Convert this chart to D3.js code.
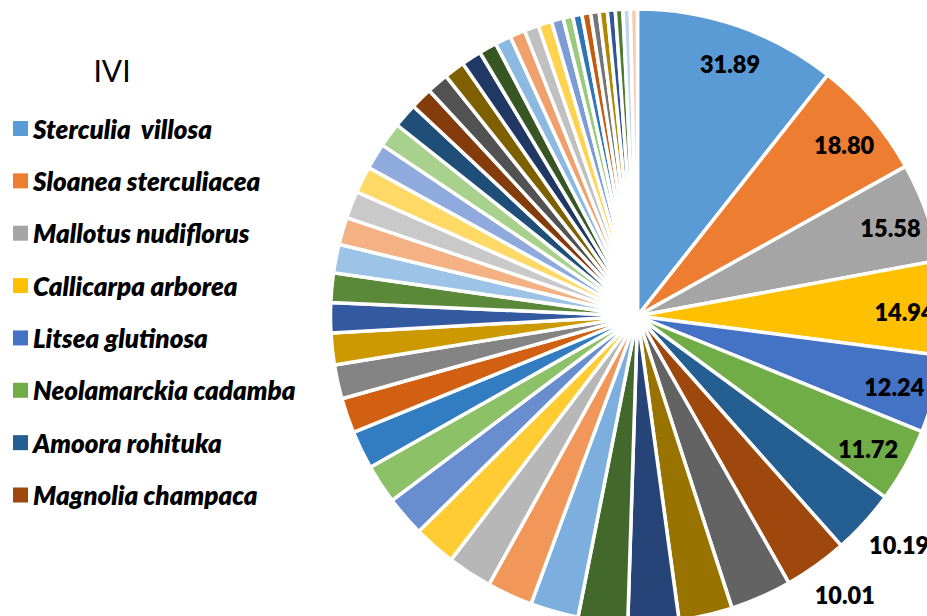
<!DOCTYPE html>
<html><head><meta charset="utf-8">
<script src="https://cdn.jsdelivr.net/npm/d3@7"></script>
<style>html,body{margin:0;padding:0;background:#fff;overflow:hidden}</style>
</head><body>
<svg id="chart" width="927" height="616"></svg>
<script>
const title = "IVI";
const species = ["Sterculia  villosa", "Sloanea sterculiacea", "Mallotus nudiflorus", "Callicarpa arborea",
  "Litsea glutinosa", "Neolamarckia cadamba", "Amoora rohituka", "Magnolia champaca"];
const ivi = [31.89, 18.80, 15.58, 14.94, 12.24, 11.72, 10.19, 10.01,
  9.70, 8.45, 8.00, 7.80, 7.60, 7.21, 7.05, 6.70, 6.35, 6.18, 6.02, 5.55, 5.38, 5.01,
  4.72, 4.65, 4.52, 4.33, 4.29, 4.21, 4.10, 3.88, 3.85, 3.49, 3.42, 3.28, 3.17, 2.81,
  2.52, 2.41, 2.27, 2.16, 1.88, 1.52, 1.45, 1.38, 1.33, 1.29, 1.24, 1.19, 1.16, 1.12];
const labelledCount = 8;
const outsideLabels = [6, 7];
const palette = [
  "#5b9bd5","#ed7d31","#a5a5a5","#ffc000","#4472c4","#70ad47",
  "#255e91","#9e480e","#636363","#997300","#264478","#43682b",
  "#7cafdd","#f1975a","#b7b7b7","#ffcd33","#698ed0","#8cc168",
  "#327dc2","#d26012","#848484","#cc9a00","#335aa1","#5a8a39",
  "#9dc3e6","#f4b183","#c9c9c9","#ffd966","#8faadc","#a9d18e",
  "#1f4e79","#843c0c","#525252","#7f6000","#203864","#375623",
  "#8cb9e2","#f0a06c","#c0c0c0","#ffd34d","#7c9cd6","#9bc97d",
  "#2e75b6","#c55a11","#757575","#b38600","#2f5597","#4f7c31",
  "#bdd7ee","#f8cbad"];

const svg = d3.select("#chart");
const cx = 637.5, cy = 316, R = 307;
const g = svg.append("g").attr("transform", `translate(${cx},${cy})`);
const pie = d3.pie().sort(null).value(d => d);
const arcs = pie(ivi);
const arc = d3.arc().innerRadius(0).outerRadius(R);
g.selectAll("path.slice").data(arcs).join("path")
  .attr("class", "slice")
  .attr("d", arc)
  .attr("fill", (d, i) => palette[i % palette.length])
  .attr("stroke", "#fff")
  .attr("stroke-width", 3.5)
  .attr("stroke-linejoin", "round");

function labelPos(d, i) {
  const outside = outsideLabels.includes(i);
  const r = outside ? 349 : 267;
  const a = (d.startAngle + d.endAngle) / 2 + (outside ? -0.015 : 0.02);
  return [Math.sin(a) * r, -Math.cos(a) * r - 2];
}
g.selectAll("text.val").data(arcs.slice(0, labelledCount)).join("text")
  .attr("class", "val")
  .attr("transform", (d, i) => `translate(${labelPos(d, i)})`)
  .attr("text-anchor", "middle")
  .attr("dominant-baseline", "central")
  .style("font-family", "Lato, 'Open Sans', sans-serif")
  .style("font-weight", 800)
  .style("font-size", "23.5px")
  .attr("fill", "#000")
  .text(d => d.value.toFixed(2));

// legend
const leg = svg.append("g");
leg.append("text").attr("x", 112).attr("y", 82).attr("text-anchor", "middle")
  .style("font-family", "Lato, sans-serif").style("font-size", "30px").style("font-weight", 400)
  .attr("fill", "#000").text(title);
const yScale = d3.scalePoint().domain(species).range([128.5, 495]);
const items = leg.selectAll("g.item").data(species).join("g").attr("class", "item")
  .attr("transform", d => `translate(0,${yScale(d)})`);
items.append("rect").attr("x", 13).attr("y", -7.5).attr("width", 15).attr("height", 15)
  .attr("fill", (d, i) => palette[i]);
items.append("text").attr("x", 33).attr("y", 0).attr("dominant-baseline", "central")
  .style("font-family", "Lato, sans-serif").style("font-style", "italic").style("font-weight", 800)
  .style("font-size", "26px").style("white-space", "pre")
  .attr("fill", "#000").text(d => d);
</script>
</body></html>
